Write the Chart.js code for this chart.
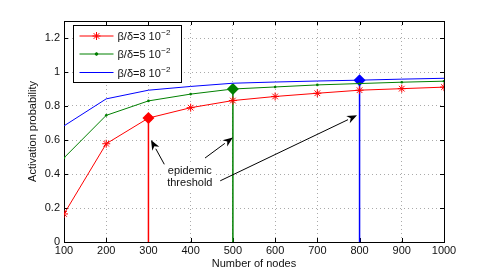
<!DOCTYPE html>
<html>
<head>
<meta charset="utf-8">
<script src="https://cdn.jsdelivr.net/npm/chart.js@4.4.0/dist/chart.umd.min.js"></script>
<style>
  html, body { margin: 0; padding: 0; background: #fff; }
  #wrap { width: 491px; height: 273px; }
</style>
</head>
<body>
<div id="wrap"><canvas id="chart"></canvas></div>
<script>
// number of nodes
var nodes = [100, 200, 300, 400, 500, 600, 700, 800, 900, 1000];
// activation probability for each beta/delta
var prob3 = [0.165, 0.578, 0.729, 0.79, 0.832, 0.856, 0.875, 0.893, 0.902, 0.911];
var prob5 = [0.495, 0.745, 0.83, 0.87, 0.9, 0.912, 0.924, 0.932, 0.94, 0.946];
var prob8 = [0.683, 0.842, 0.893, 0.915, 0.934, 0.941, 0.947, 0.952, 0.958, 0.963];
var seriesNames = ['β/δ=3 10', 'β/δ=5 10', 'β/δ=8 10'];
// epidemic threshold (nodes) per series
var thresholds = [300, 500, 800];
var yTicks = [0, 0.2, 0.4, 0.6, 0.8, 1, 1.2];

var red = '#ff0000', green = '#008000', blue = '#0000ff';
var FONT = '"Liberation Sans", Arial, Helvetica, sans-serif';

function pts(arr){
  return nodes.map(function(n, i){ return {x: n, y: arr[i]}; });
}
function valueAt(arr, n){
  return arr[nodes.indexOf(n)];
}
var allSeries = [prob3, prob5, prob8];
var colorList = [red, green, blue];

var datasets = [
  { label: seriesNames[0], data: pts(prob3), borderColor: red, backgroundColor: red,
    borderWidth: 1, pointStyle: 'star', pointRadius: 4, pointBorderWidth: 1 },
  { label: seriesNames[1], data: pts(prob5), borderColor: green, backgroundColor: green,
    borderWidth: 1, pointStyle: 'circle', pointRadius: 1.3, pointBorderWidth: 0 },
  { label: seriesNames[2], data: pts(prob8), borderColor: blue, backgroundColor: blue,
    borderWidth: 1, pointRadius: 0 }
];
// vertical threshold lines + diamonds
thresholds.forEach(function(t, i){
  var v = valueAt(allSeries[i], t);
  datasets.push({ label: 'thr' + i, data: [{x: t, y: 0}, {x: t, y: v}],
    borderColor: colorList[i], borderWidth: 1.5, pointRadius: 0 });
  datasets.push({ label: 'dia' + i, data: [{x: t, y: v}], showLine: false,
    pointStyle: 'rectRot', pointRadius: 6, backgroundColor: colorList[i],
    borderColor: colorList[i], pointBorderWidth: 0 });
});

// arrows: [tailX, tailY, tipX, tipY] in data units
var arrows = [
  [338, 0.455, 306, 0.60],
  [434, 0.494, 500, 0.615],
  [470, 0.36, 794, 0.745]
];
var noteText = ['epidemic', 'threshold'];
var notePos = {x: 398, y: 0.415};

var frame = {
  id: 'frame',
  beforeDatasetsDraw: function(chart){
    var ctx = chart.ctx, a = chart.chartArea, sx = chart.scales.x, sy = chart.scales.y;
    ctx.save();
    ctx.strokeStyle = '#000';
    ctx.lineWidth = 1;
    ctx.beginPath();
    nodes.forEach(function(n){
      var x = Math.round(sx.getPixelForValue(n)) + 0.5;
      ctx.moveTo(x, a.bottom); ctx.lineTo(x, a.bottom - 4);
      ctx.moveTo(x, a.top); ctx.lineTo(x, a.top + 4);
    });
    yTicks.forEach(function(v){
      var y = Math.round(sy.getPixelForValue(v)) + 0.5;
      ctx.moveTo(a.left, y); ctx.lineTo(a.left + 4, y);
      ctx.moveTo(a.right, y); ctx.lineTo(a.right - 4, y);
    });
    ctx.stroke();
    ctx.strokeRect(Math.round(a.left) + 0.5, Math.round(a.top) + 0.5,
      Math.round(a.right - a.left), Math.round(a.bottom - a.top));
    ctx.restore();
  },
  afterDatasetsDraw: function(chart){
    var ctx = chart.ctx, a = chart.chartArea, sx = chart.scales.x, sy = chart.scales.y;
    ctx.save();
    // arrows
    ctx.strokeStyle = '#000';
    ctx.fillStyle = '#000';
    ctx.lineWidth = 1;
    arrows.forEach(function(ar){
      var x0 = sx.getPixelForValue(ar[0]), y0 = sy.getPixelForValue(ar[1]);
      var x1 = sx.getPixelForValue(ar[2]), y1 = sy.getPixelForValue(ar[3]);
      var ang = Math.atan2(y1 - y0, x1 - x0);
      var len = 10, w = 4;
      var bx = x1 - len * Math.cos(ang), by = y1 - len * Math.sin(ang);
      ctx.beginPath(); ctx.moveTo(x0, y0); ctx.lineTo(bx, by); ctx.stroke();
      ctx.beginPath();
      ctx.moveTo(x1, y1);
      ctx.lineTo(bx + w * Math.sin(ang), by - w * Math.cos(ang));
      ctx.lineTo(bx + 3 * Math.cos(ang), by + 3 * Math.sin(ang));
      ctx.lineTo(bx - w * Math.sin(ang), by + w * Math.cos(ang));
      ctx.closePath(); ctx.fill();
    });
    // note text
    ctx.font = '11px ' + FONT;
    ctx.textAlign = 'center';
    ctx.textBaseline = 'middle';
    var nx = sx.getPixelForValue(notePos.x), ny = sy.getPixelForValue(notePos.y);
    ctx.fillStyle = '#fff';
    ctx.fillRect(nx - 26, ny - 7, 52, 26);
    ctx.fillStyle = '#111';
    ctx.fillText(noteText[0], nx, ny);
    ctx.fillText(noteText[1], nx, ny + 12);

    // legend
    var lx = Math.round(a.left) + 9.5, ly = Math.round(a.top) + 4.5, lw = 108, lh = 57;
    ctx.fillStyle = '#fff';
    ctx.fillRect(lx, ly, lw, lh);
    ctx.strokeStyle = '#000';
    ctx.strokeRect(lx, ly, lw, lh);
    var rowY = [ly + 10.5, ly + 28.5, ly + 47];
    [0, 1, 2].forEach(function(i){
      var ds = chart.data.datasets[i];
      ctx.strokeStyle = ds.borderColor;
      ctx.lineWidth = 1;
      ctx.beginPath(); ctx.moveTo(lx + 6, rowY[i]); ctx.lineTo(lx + 40, rowY[i]); ctx.stroke();
      if (ds.pointRadius > 0) {
        Chart.helpers.drawPoint(ctx, { pointStyle: ds.pointStyle, radius: ds.pointRadius,
          borderWidth: ds.pointBorderWidth || 1 }, lx + 23, rowY[i]);
        if (ds.pointStyle === 'circle') {
          ctx.fillStyle = ds.backgroundColor;
          ctx.beginPath(); ctx.arc(lx + 23, rowY[i], 1.3, 0, Math.PI * 2); ctx.fill();
        }
      }
      ctx.fillStyle = '#111';
      ctx.textAlign = 'left';
      ctx.textBaseline = 'middle';
      ctx.font = '11px ' + FONT;
      var tx = lx + 44;
      ctx.fillText(seriesNames[i], tx, rowY[i] + 1);
      var tw = ctx.measureText(seriesNames[i]).width;
      ctx.font = '8px ' + FONT;
      ctx.fillText('\u22122', tx + tw + 0.5, rowY[i] - 3);
    });
    ctx.restore();
  }
};

new Chart(document.getElementById('chart'), {
  type: 'line',
  data: { datasets: datasets },
  plugins: [frame],
  options: {
    responsive: true,
    maintainAspectRatio: false,
    animation: false,
    layout: { padding: { left: 0, right: 47, top: 21, bottom: 0 } },
    plugins: { legend: { display: false }, tooltip: { enabled: false } },
    elements: { line: { tension: 0 } },
    scales: {
      x: {
        type: 'linear', min: 100, max: 1000,
        ticks: { stepSize: 100, color: '#111', padding: 2, maxRotation: 0,
          font: { family: FONT, size: 11 },
          callback: function(v){ return String(v); } },
        grid: { color: '#aaa', lineWidth: 1, drawTicks: false },
        border: { display: false, dash: [1, 3] },
        title: { display: true, text: 'Number of nodes', color: '#111',
          padding: { top: 0, bottom: 2 }, font: { family: FONT, size: 11 } },
        afterFit: function(s){ s.height = 31; }
      },
      y: {
        min: 0, max: 1.3,
        afterBuildTicks: function(s){
          s.ticks = yTicks.map(function(v){ return {value: v}; });
        },
        ticks: { color: '#111', padding: 4,
          font: { family: FONT, size: 11 },
          callback: function(v){ return String(+v.toFixed(1)); } },
        grid: { color: '#aaa', lineWidth: 1, drawTicks: false },
        border: { display: false, dash: [1, 3] },
        title: { display: true, text: 'Activation probability', color: '#111',
          padding: { top: 26, bottom: 0 }, font: { family: FONT, size: 11 } },
        afterFit: function(s){ s.width = 64; }
      }
    }
  }
});
</script>
</body>
</html>
